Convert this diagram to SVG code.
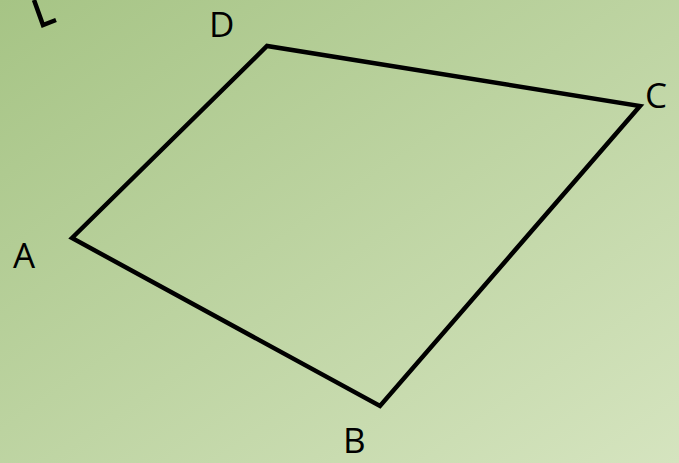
<svg xmlns="http://www.w3.org/2000/svg" width="679" height="463" viewBox="0 0 679 463">
<defs>
<linearGradient id="bg" x1="0" y1="0" x2="1" y2="1">
<stop offset="0" stop-color="#a6c485"/>
<stop offset="1" stop-color="#d5e4bf"/>
</linearGradient>
<style>
.lbl{font-family:"Open Sans","Liberation Sans",sans-serif;font-size:35px;fill:#000}
.ln{fill:none;stroke:#000;stroke-width:4.5;stroke-linejoin:miter}
</style>
</defs>
<rect width="679" height="463" fill="url(#bg)"/>
<g id="connectors">
<polygon class="ln" points="72,238 267,46 640,106 380,406"/>
<polyline class="ln" points="34,0 43,25 56,20"/>
</g>
<g id="A"><text class="lbl" x="13" y="268">A</text></g>
<g id="B"><text class="lbl" x="343" y="453">B</text></g>
<g id="C"><text class="lbl" x="645" y="108">C</text></g>
<g id="D"><text class="lbl" x="209" y="37">D</text></g>
</svg>
